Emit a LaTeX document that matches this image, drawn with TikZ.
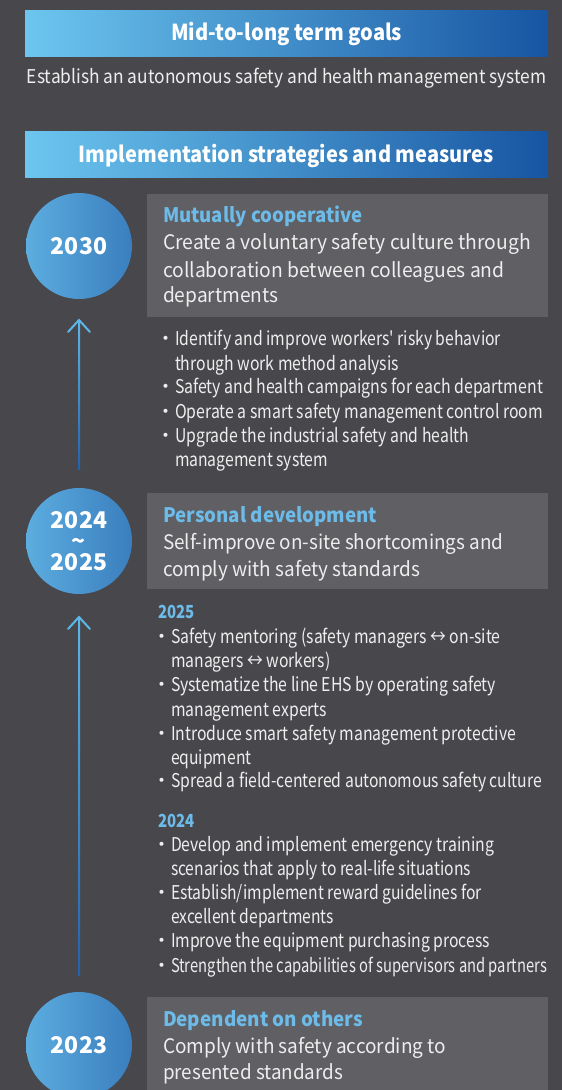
\documentclass[tikz,border=0pt]{standalone}
\usepackage{fontspec}
\usepackage{graphicx}
\newfontfamily\cjk{Noto Sans CJK KR}
\definecolor{bg}{HTML}{48474C}
\definecolor{boxgray}{HTML}{5F5F64}
\definecolor{ltblue}{HTML}{6DBBE8}
\definecolor{txtwhite}{HTML}{EEEEEE}
\definecolor{hdrL}{HTML}{6CC6EF}
\definecolor{hdrR}{HTML}{1755A2}
\definecolor{cirL}{HTML}{5CADE0}
\definecolor{cirR}{HTML}{3A7EBE}
\definecolor{arT}{HTML}{5DB7E7}
\definecolor{arB}{HTML}{2461AB}
\newcommand\FL[2]{\resizebox{#1pt}{\height}{#2}}
\tikzset{
  hdrtxt/.style={font=\cjk\bfseries\fontsize{22}{26}\selectfont, text=white, anchor=base},
  goaltxt/.style={font=\cjk\fontsize{19}{23}\selectfont, text=txtwhite, anchor=base},
  boxtitle/.style={font=\cjk\bfseries\fontsize{20}{24}\selectfont, text=ltblue, anchor=base west},
  boxbody/.style={font=\cjk\fontsize{20}{24}\selectfont, text=txtwhite, anchor=base west},
  bultext/.style={font=\cjk\fontsize{19}{23}\selectfont, text=txtwhite, anchor=base west},
  bulmark/.style={font=\cjk\fontsize{19}{23}\selectfont, text=txtwhite, anchor=base},
  yrlabel/.style={font=\cjk\bfseries\fontsize{18}{22}\selectfont, text=ltblue, anchor=base west},
  yearcircle/.style={circle, minimum size=106pt, left color=cirL, right color=cirR,
    font=\cjk\bfseries\fontsize{23}{21}\selectfont, text=white, align=center},
  arhead/.style={draw=arT, line width=2pt, line cap=round},
}
\begin{document}
\begin{tikzpicture}[x=1pt,y=-1pt, every node/.style={inner sep=0pt, outer sep=0pt}]
\useasboundingbox (0,0) rectangle (562,1090);
\fill[bg] (0,0) rectangle (562,1090);

% headers
\shade[left color=hdrL, right color=hdrR] (25,10) rectangle (548,56);
\node[hdrtxt] (h1) at (286.6,40.7) {\FL{231}{Mid-to-long term goals}};
\node[goaltxt] (goal) at (286.8,83.3) {\FL{519.6}{Establish an autonomous safety and health management system}};
\shade[left color=hdrL, right color=hdrR] (25,131) rectangle (548,177);
\node[hdrtxt] (h2) at (286.4,162.7) {\FL{415}{Implementation strategies and measures}};

% boxes
\fill[boxgray] (147,194) rectangle (548,317);
\fill[boxgray] (147,493) rectangle (548,589);
\fill[boxgray] (147,997) rectangle (548,1090);

% circles
\node[yearcircle] (c2030) at (79,246) {2030};
\node[yearcircle] (c2425) at (79,541) {2024\\\textasciitilde\\2025};
\node[yearcircle] (c2023) at (79,1045) {2023};

% arrows
\coordinate (a1tip) at ([yshift=-21pt]c2030.south);
\coordinate (a1end) at ([yshift=19pt]c2425.north);
\coordinate (a2tip) at ([yshift=-23pt]c2425.south);
\coordinate (a2end) at ([yshift=17pt]c2023.north);
\shade[top color=arT, bottom color=arB] ([xshift=-1pt]a1tip) rectangle ([xshift=1pt]a1end);
\draw[arhead] ([xshift=-11pt,yshift=-12pt]a1tip) -- (a1tip) -- ([xshift=11pt,yshift=-12pt]a1tip);
\shade[top color=arT, bottom color=arB] ([xshift=-1pt]a2tip) rectangle ([xshift=1pt]a2end);
\draw[arhead] ([xshift=-11pt,yshift=-12pt]a2tip) -- (a2tip) -- ([xshift=11pt,yshift=-12pt]a2tip);

% box 1
\node[boxtitle] (b1t) at (163,222.7) {\FL{200}{Mutually cooperative}};
\node[boxbody] (b1a) at (163,249) {\FL{368}{Create a voluntary safety culture through}};
\node[boxbody] (b1b) at (163,277) {\FL{341.7}{collaboration between colleagues and}};
\node[boxbody] (b1c) at (163,302.7) {\FL{115.5}{departments}};

\node[bulmark] (m1a) at (166,345.7) {・};
\node[bultext] (l1a) at (175,345.7) {\FL{326}{Identify and improve workers' risky behavior}};
\node[bultext] (l1b) at (175,370) {\FL{224}{through work method analysis}};
\node[bulmark] (m1c) at (166,393.5) {・};
\node[bultext] (l1c) at (175,393.5) {\FL{368}{Safety and health campaigns for each department}};
\node[bulmark] (m1d) at (166,418) {・};
\node[bultext] (l1d) at (175,418) {\FL{368}{Operate a smart safety management control room}};
\node[bulmark] (m1e) at (166,442) {・};
\node[bultext] (l1e) at (175,442) {\FL{294}{Upgrade the industrial safety and health}};
\node[bultext] (l1f) at (175,466) {\FL{153}{management system}};

% box 2
\node[boxtitle] (b2t) at (163,522.7) {\FL{214}{Personal development}};
\node[boxbody] (b2a) at (163,549) {\FL{340.6}{Self-improve on-site shortcomings and}};
\node[boxbody] (b2b) at (163,576) {\FL{257}{comply with safety standards}};

\node[yrlabel] (y25) at (158.5,618.5) {\FL{36.5}{2025}};
\node[bulmark] (m2a) at (161.5,643) {・};
\node[bultext] (l2a) at (171,643) {\FL{329.7}{Safety mentoring (safety managers ↔ on-site}};
\node[bultext] (l2b) at (171,667.7) {\FL{159.5}{managers ↔ workers)}};
\node[bulmark] (m2c) at (161.5,691.7) {・};
\node[bultext] (l2c) at (171,691.7) {\FL{325}{Systematize the line EHS by operating safety}};
\node[bultext] (l2d) at (171,716) {\FL{156}{management experts}};
\node[bulmark] (m2e) at (161.5,740) {・};
\node[bultext] (l2e) at (171,740) {\FL{345}{Introduce smart safety management protective}};
\node[bultext] (l2f) at (171,764) {\FL{80.6}{equipment}};
\node[bulmark] (m2g) at (161.5,787) {・};
\node[bultext] (l2g) at (171,787) {\FL{371}{Spread a field-centered autonomous safety culture}};

\node[yrlabel] (y24) at (158.5,827) {\FL{36.5}{2024}};
\node[bulmark] (m3a) at (161.5,851.7) {・};
\node[bultext] (l3a) at (171,851.7) {\FL{323}{Develop and implement emergency training}};
\node[bultext] (l3b) at (171,875) {\FL{300}{scenarios that apply to real-life situations}};
\node[bulmark] (m3c) at (161.5,899) {・};
\node[bultext] (l3c) at (171,899) {\FL{311}{Establish/implement reward guidelines for}};
\node[bultext] (l3d) at (171,923) {\FL{163}{excellent departments}};
\node[bulmark] (m3e) at (161.5,947) {・};
\node[bultext] (l3e) at (171,947) {\FL{319}{Improve the equipment purchasing process}};
\node[bulmark] (m3f) at (161.5,972) {・};
\node[bultext] (l3f) at (171,972) {\FL{376}{Strengthen the capabilities of supervisors and partners}};

% box 3
\node[boxtitle] (b3t) at (163,1026) {\FL{200}{Dependent on others}};
\node[boxbody] (b3a) at (163,1053) {\FL{283}{Comply with safety according to}};
\node[boxbody] (b3b) at (163,1079) {\FL{180}{presented standards}};
\end{tikzpicture}
\end{document}
